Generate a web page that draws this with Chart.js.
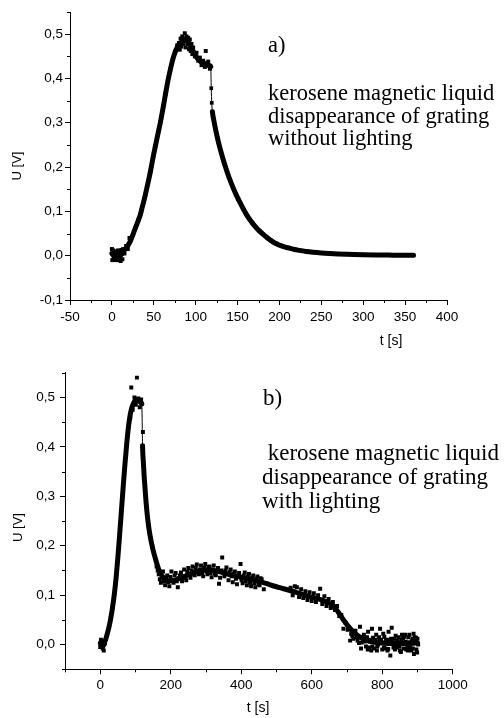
<!DOCTYPE html>
<html>
<head>
<meta charset="utf-8">
<script src="https://cdn.jsdelivr.net/npm/chart.js@4.4.1/dist/chart.umd.min.js"></script>
<style>
  html, body { margin: 0; padding: 0; background: #fff; }
  #wrap { position: relative; width: 504px; height: 718px; overflow: hidden; }
  canvas { position: absolute; left: 0; }
  #chartA { top: 0; }
  #chartB { top: 355px; }
</style>
</head>
<body>
<div id="wrap">
  <canvas id="chartA" width="504" height="355"></canvas>
  <canvas id="chartB" width="504" height="363"></canvas>
</div>
<script>
// ============================
// DATA: panel a) without lighting
// ============================
const aT = [0, 2, 4, 6, 8, 10, 12, 14, 16, 18, 20, 22, 24, 26, 28, 30, 32, 34, 36, 38,
  40, 42, 44, 46, 48, 50, 52, 54, 56, 58, 60, 62, 64, 66, 68, 70, 72, 74, 76, 78,
  80, 82, 84, 86, 88, 90, 92, 94, 96, 98, 100, 102, 104, 106, 108, 110, 112, 114, 116, 118,
  118.6, 119.2, 120, 122, 124, 126, 128, 130, 133, 136, 139, 142, 145, 148, 151, 154, 157, 160,
  164, 168, 172, 176, 180, 185, 190, 195, 200, 206, 212, 218, 224, 232, 240, 250, 260, 270,
  280, 290, 300, 315, 330, 345, 360];
const aU = [0.005, 0.0, 0.003, 0.0, 0.002, 0.0, 0.004, 0.01, 0.015, 0.02, 0.026, 0.033, 0.042, 0.052, 0.062, 0.072, 0.082, 0.093, 0.108, 0.122,
  0.138, 0.155, 0.172, 0.19, 0.21, 0.23, 0.248, 0.266, 0.284, 0.302, 0.322, 0.343, 0.365, 0.386, 0.405, 0.422, 0.438, 0.451, 0.462, 0.47,
  0.476, 0.48, 0.484, 0.487, 0.488, 0.485, 0.479, 0.472, 0.465, 0.458, 0.451, 0.446, 0.442, 0.438, 0.436, 0.434, 0.432, 0.431, 0.429, 0.427,
  0.378, 0.345, 0.325, 0.302, 0.283, 0.266, 0.25, 0.236, 0.216, 0.198, 0.181, 0.166, 0.152, 0.139, 0.127, 0.116, 0.105, 0.095,
  0.083, 0.073, 0.064, 0.056, 0.049, 0.041, 0.034, 0.028, 0.024, 0.02, 0.017, 0.014, 0.012, 0.0095, 0.0078, 0.0062, 0.005, 0.004,
  0.0032, 0.0026, 0.0021, 0.0016, 0.0013, 0.001, 0.001];

// scattered squares around the curve
const aNoiseT = [0, 0.5, 1.5, 2.5, 3.5, 4.5, 5.5, 6.5, 7.5, 8.5, 9.5, 10.5, 11.5, 12.5, 13.5, 15, 17, 19, 21,
  78, 80, 81, 82, 83, 84, 85, 86, 87, 88, 89, 90, 91, 92, 93, 94, 95, 96, 97, 99, 101, 103, 105, 107, 109, 111, 112, 113, 115, 117];
const aNoiseU = [0.015, -0.01, 0.012, -0.008, 0.006, -0.01, 0.01, -0.005, 0.012, -0.01, 0.006, -0.012, 0.013, -0.008, 0.015, 0.005, 0.022, 0.015, 0.04,
  0.475, 0.48, 0.465, 0.49, 0.472, 0.495, 0.478, 0.49, 0.502, 0.47, 0.495, 0.478, 0.492, 0.466, 0.488, 0.462, 0.478, 0.455, 0.47, 0.45, 0.458, 0.44, 0.447, 0.43, 0.44, 0.426, 0.462, 0.434, 0.438, 0.422];

const aXTicks = [-50, 0, 50, 100, 150, 200, 250, 300, 350, 400];
const aXMinor = [-25, 25, 75, 125, 175, 225, 275, 325, 375];
const aYTicks = [-0.1, 0.0, 0.1, 0.2, 0.3, 0.4, 0.5];
const aYMinor = [-0.05, 0.05, 0.15, 0.25, 0.35, 0.45, 0.55];

// ============================
// DATA: panel b) with lighting
// ============================
const bT = [0, 4, 8, 12, 16, 20, 25, 30, 35, 40, 45, 50, 55, 60, 65, 70, 75, 80, 85, 90,
  95, 100, 105, 110, 115, 118, 120, 122, 125, 130, 135, 140, 148, 158, 167, 177, 187, 197, 210, 222,
  240, 260, 280, 300, 320, 340, 360, 380, 400, 420, 445, 470, 495, 520, 545, 567, 590, 615, 640, 660,
  675, 690, 705, 720, 737, 755, 775, 800, 830, 860, 900];
const bU = [0.003, 0.0, -0.003, 0.004, 0.012, 0.022, 0.036, 0.054, 0.076, 0.102, 0.135, 0.176, 0.222, 0.27, 0.318, 0.364, 0.405, 0.44, 0.465, 0.48,
  0.489, 0.494, 0.496, 0.493, 0.49, 0.487, 0.402, 0.372, 0.336, 0.288, 0.252, 0.226, 0.197, 0.17, 0.15, 0.137, 0.131, 0.129, 0.13, 0.133,
  0.138, 0.144, 0.149, 0.151, 0.15, 0.147, 0.143, 0.139, 0.136, 0.133, 0.129, 0.124, 0.118, 0.113, 0.108, 0.103, 0.098, 0.093, 0.087, 0.079,
  0.066, 0.05, 0.036, 0.025, 0.015, 0.009, 0.005, 0.003, 0.002, 0.002, 0.003];

const bNoiseT = [0, 2, 5, 7, 10, 13,
  85, 88, 92, 97, 101, 104, 108, 112, 116, 121,
  160, 163, 166, 169, 172, 175, 178, 181, 184, 187, 190, 193, 196, 199, 202, 205, 208, 211, 214, 217,
  220, 223, 226, 229, 232, 235, 238, 241, 244, 247, 250, 253, 256, 259, 262, 265, 268, 271, 274, 277,
  280, 283, 286, 289, 292, 295, 298, 301, 304, 307, 310, 313, 316, 319, 322, 325, 328, 331, 334, 337,
  340, 343, 346, 349, 352, 355, 358, 361, 364, 367, 370, 373, 376, 379, 382, 385, 388, 391, 394, 398,
  401, 404, 407, 410, 413, 416, 419, 422, 425, 428, 431, 434, 437, 440, 443, 446, 449, 452, 455, 458, 464,
  540, 546, 552, 558, 564, 570, 576, 582, 588, 594, 600, 606, 612, 618, 624, 630, 636, 642, 648, 654,
  660, 666, 672, 678, 684, 690, 696, 702, 709,
  712, 718, 724, 730, 737, 742, 745, 748, 754, 757, 760, 766, 769, 771, 777, 780, 783, 788, 791, 794,
  800, 803, 806, 812, 815, 818, 821, 823, 827, 832, 835, 838, 844, 847, 850, 853, 856, 859, 862, 865,
  868, 871, 874, 877, 880, 883, 886, 889, 890, 892, 894, 897, 899, 900, 902,
  715, 727, 734, 751, 763, 774, 786, 797, 809, 825, 841, 862, 873, 885, 896,
  740, 752, 759, 764, 772, 779, 785, 792, 798, 805, 811, 817, 829, 836, 843, 849, 855, 861, 867, 879, 887, 893, 898];
const bNoiseU = [-0.005, 0.01, 0.006, -0.008, -0.012, 0.002,
  0.458, 0.52, 0.475, 0.5, 0.485, 0.54, 0.498, 0.48, 0.496, 0.43,
  0.158, 0.15, 0.142, 0.132, 0.125, 0.138, 0.148, 0.128, 0.12, 0.135, 0.14, 0.126, 0.118, 0.137, 0.148, 0.131, 0.125, 0.14, 0.145, 0.128,
  0.116, 0.134, 0.14, 0.146, 0.128, 0.138, 0.152, 0.135, 0.13, 0.147, 0.155, 0.14, 0.135, 0.15, 0.158, 0.145, 0.14, 0.155, 0.162, 0.148,
  0.142, 0.152, 0.16, 0.145, 0.138, 0.155, 0.163, 0.148, 0.142, 0.157, 0.158, 0.145, 0.136, 0.152, 0.16, 0.143, 0.14, 0.15, 0.155, 0.123,
  0.135, 0.15, 0.176, 0.146, 0.138, 0.15, 0.156, 0.142, 0.13, 0.147, 0.152, 0.138, 0.126, 0.144, 0.148, 0.133, 0.122, 0.14, 0.145, 0.163,
  0.13, 0.124, 0.14, 0.146, 0.128, 0.12, 0.138, 0.143, 0.125, 0.118, 0.135, 0.14, 0.124, 0.116, 0.133, 0.138, 0.122, 0.12, 0.134, 0.132, 0.112,
  0.115, 0.1, 0.118, 0.116, 0.096, 0.112, 0.094, 0.108, 0.09, 0.106, 0.088, 0.104, 0.086, 0.1, 0.113, 0.082, 0.098, 0.078, 0.092, 0.074,
  0.086, 0.07, 0.078, 0.058, 0.06, 0.032, 0.044, 0.03, 0.008,
  0.022, 0.012, 0.028, 0.008, 0.036, 0.004, 0.012, 0.02, -0.004, 0.015, 0.026, 0.006, -0.012, 0.032, -0.008, 0.01, 0.02, 0.0, 0.015, 0.032,
  -0.01, 0.022, 0.016, 0.004, -0.012, 0.026, 0.01, -0.022, 0.034, -0.006, 0.012, 0.018, 0.008, 0.015, -0.012, -0.015, 0.02, 0.012, 0.002, 0.02,
  -0.01, -0.005, 0.015, 0.02, -0.006, -0.012, 0.012, 0.022, -0.019, 0.015, 0.006, -0.01, -0.016, 0.012, 0.0,
  0.018, 0.015, 0.003, 0.012, -0.006, 0.014, -0.004, 0.01, -0.008, 0.012, -0.006, 0.016, -0.012, 0.008, 0.014,
  -0.008, 0.006, -0.01, 0.01, -0.004, 0.006, -0.012, 0.008, 0.004, -0.006, 0.01, -0.009, 0.007, -0.01, 0.006, -0.004, 0.01, -0.008, 0.006, 0.005, -0.008, 0.009, 0.004];

const bXTicks = [0, 200, 400, 600, 800, 1000];
const bXMinor = [-100, 100, 300, 500, 700, 900];
const bYTicks = [0.0, 0.1, 0.2, 0.3, 0.4, 0.5];
const bYMinor = [-0.05, 0.05, 0.15, 0.25, 0.35, 0.45, 0.55];

// ============================
// HELPERS
// ============================
const SANS = "'Liberation Sans', Arial, sans-serif";
const SERIF = "'Liberation Serif', 'Times New Roman', serif";

function toXY(xs, ys) {
  return xs.map((x, i) => ({ x: x, y: ys[i] }));
}

function commaFmt(v) {
  return v.toFixed(1).replace(".", ",");
}

// thin connector only where the signal falls off abruptly
function segWidth(c) {
  const dx = c.p1.parsed.x - c.p0.parsed.x;
  const slope = (c.p1.parsed.y - c.p0.parsed.y) / dx;
  return slope < -0.02 ? 1 : 5;
}

// minor ticks + free text (labels, axis titles)
function extrasPlugin(cfg) {
  return {
    id: "extras",
    afterDraw(chart) {
      const ctx = chart.ctx;
      const xs = chart.scales.x;
      const ys = chart.scales.y;
      ctx.save();
      ctx.strokeStyle = "#000";
      ctx.lineWidth = 1;
      ctx.beginPath();
      cfg.minorX.forEach((v) => {
        const px = Math.round(xs.getPixelForValue(v)) + 0.5;
        ctx.moveTo(px, chart.chartArea.bottom);
        ctx.lineTo(px, chart.chartArea.bottom + cfg.minorLen);
      });
      cfg.minorY.forEach((v) => {
        const py = Math.round(ys.getPixelForValue(v)) + 0.5;
        ctx.moveTo(chart.chartArea.left, py);
        ctx.lineTo(chart.chartArea.left - cfg.minorLen, py);
      });
      ctx.stroke();
      ctx.fillStyle = "#000";
      cfg.texts.forEach((t) => {
        ctx.save();
        ctx.font = t.font;
        ctx.textAlign = t.align || "left";
        ctx.textBaseline = t.baseline || "alphabetic";
        ctx.translate(t.x, t.y);
        if (t.rot) ctx.rotate(t.rot);
        ctx.fillText(t.text, 0, 0);
        ctx.restore();
      });
      ctx.restore();
    },
  };
}

function makePanel(canvasId, p) {
  return new Chart(document.getElementById(canvasId), {
    type: "line",
    data: {
      datasets: [
        {
          data: toXY(p.t, p.u),
          borderColor: "#000",
          backgroundColor: "#000",
          borderWidth: 5,
          borderJoinStyle: "round",
          borderCapStyle: "round",
          cubicInterpolationMode: "monotone",
          segment: { borderWidth: segWidth },
          pointStyle: "rect",
          pointRadius: 2.6,
          pointBorderWidth: 0,
          pointBackgroundColor: "#000",
          fill: false,
        },
        {
          data: toXY(p.nt, p.nu),
          showLine: false,
          pointStyle: "rect",
          pointRadius: 2.8,
          pointBorderWidth: 0,
          pointBackgroundColor: "#000",
        },
      ],
    },
    options: {
      responsive: false,
      animation: false,
      events: [],
      layout: { padding: p.padding },
      plugins: { legend: { display: false }, tooltip: { enabled: false } },
      scales: {
        x: {
          type: "linear",
          min: p.xMin,
          max: p.xMax,
          afterBuildTicks: (s) => { s.ticks = p.xTicks.map((v) => ({ value: v })); },
          afterFit: (s) => { s.height = p.xAxisH; },
          grid: { drawOnChartArea: false, drawTicks: true, tickLength: 5, color: "#000", lineWidth: 1 },
          border: { display: true, color: "#000", width: 1 },
          ticks: {
            color: "#000",
            font: { family: SANS, size: 13.5 },
            padding: p.xPad,
            maxRotation: 0,
            autoSkip: false,
            callback: (v) => String(v),
          },
        },
        y: {
          type: "linear",
          min: p.yMin,
          max: p.yMax,
          afterBuildTicks: (s) => { s.ticks = p.yTicks.map((v) => ({ value: v })); },
          afterFit: (s) => { s.width = p.yAxisW; },
          grid: { drawOnChartArea: false, drawTicks: true, tickLength: 5, color: "#000", lineWidth: 1 },
          border: { display: true, color: "#000", width: 1 },
          ticks: {
            color: "#000",
            font: { family: SANS, size: 13.5 },
            padding: p.yPad,
            callback: (v) => commaFmt(v),
          },
        },
      },
    },
    plugins: [extrasPlugin(p.extras)],
  });
}

// ============================
// PANEL a)
// ============================
makePanel("chartA", {
  t: aT, u: aU, nt: aNoiseT, nu: aNoiseU,
  xMin: -50, xMax: 400, yMin: -0.1, yMax: 0.55,
  xTicks: aXTicks, yTicks: aYTicks,
  padding: { left: 0, top: 12, right: 57, bottom: 0 },
  yAxisW: 70, xAxisH: 55, xPad: 4, yPad: 2,
  extras: {
    minorX: aXMinor, minorY: aYMinor, minorLen: 3,
    texts: [
      { text: "a)", x: 268, y: 52, font: "22.5px " + SERIF },
      { text: "kerosene magnetic liquid", x: 268, y: 100, font: "22.5px " + SERIF },
      { text: "disappearance of grating", x: 268, y: 122.5, font: "22.5px " + SERIF },
      { text: "without lighting", x: 268, y: 145, font: "22.5px " + SERIF },
      { text: "U [V]", x: 17, y: 166, font: "13px " + SANS, align: "center", baseline: "middle", rot: -Math.PI / 2 },
      { text: "t [s]", x: 391, y: 341, font: "14px " + SANS, align: "center", baseline: "middle" },
    ],
  },
});

// ============================
// PANEL b)
// ============================
makePanel("chartB", {
  t: bT, u: bU, nt: bNoiseT, nu: bNoiseU,
  xMin: -100, xMax: 1000, yMin: -0.05, yMax: 0.55,
  xTicks: bXTicks, yTicks: bYTicks,
  padding: { left: 0, top: 17.7, right: 51.3, bottom: 0 },
  yAxisW: 65, xAxisH: 48.7, xPad: 3, yPad: 5,
  extras: {
    minorX: bXMinor, minorY: bYMinor, minorLen: 3,
    texts: [
      { text: "b)", x: 263, y: 50, font: "23px " + SERIF },
      { text: " kerosene magnetic liquid", x: 262, y: 105, font: "23px " + SERIF },
      { text: "disappearance of grating", x: 262, y: 129, font: "23px " + SERIF },
      { text: "with lighting", x: 262, y: 153, font: "23px " + SERIF },
      { text: "U [V]", x: 18, y: 172.5, font: "13px " + SANS, align: "center", baseline: "middle", rot: -Math.PI / 2 },
      { text: "t [s]", x: 258, y: 353, font: "14px " + SANS, align: "center", baseline: "middle" },
    ],
  },
});
</script>
</body>
</html>
